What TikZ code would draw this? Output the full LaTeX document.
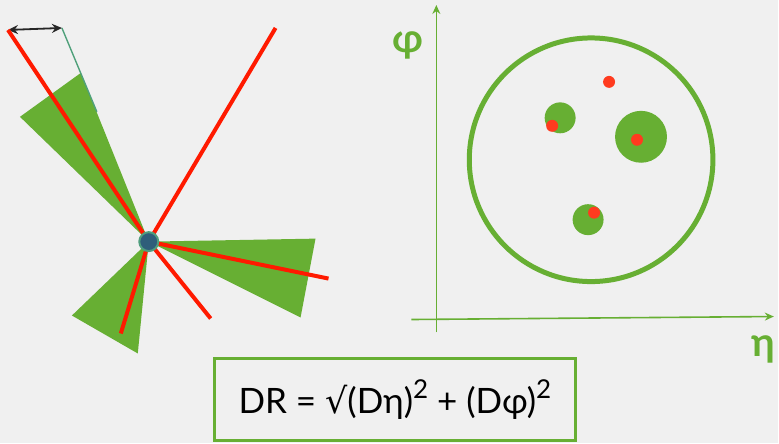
\documentclass[tikz,border=0pt]{standalone}
\usepackage{fontspec}
\setmainfont{Lato}
\newfontfamily\symfont{DejaVu Sans}
\usetikzlibrary{arrows.meta}
\definecolor{bg}{HTML}{F0F0F0}
\definecolor{jetgreen}{HTML}{67AF33}
\definecolor{trackred}{HTML}{FF1A00}
\definecolor{dotred}{HTML}{FF3B1F}
\definecolor{vtxblue}{HTML}{2F5E7A}
\definecolor{vtxteal}{HTML}{4F9E7E}
\definecolor{edgeteal}{HTML}{4FA07A}
\newcommand{\sqsup}{\raisebox{0.42em}{\fontsize{26}{26}\selectfont 2}}

\begin{document}
\begin{tikzpicture}[x=1pt,y=-1pt,>=Stealth,
  track/.style={trackred,line width=4pt},
  jet/.style={fill=jetgreen},
  axis/.style={jetgreen,line width=1.6pt,-{Stealth[length=9pt,width=8pt]}},
  axlabel/.style={text=jetgreen,font=\bfseries\fontsize{40}{40}\selectfont}]
\fill[bg] (0,0) rectangle (779,444);
% ---------- jets (cones) ----------
\coordinate (vtx) at (149,242);
\fill[jet] (vtx) -- (20,117) -- (81,73) -- cycle;
\fill[jet] (vtx) -- (316,239) -- (301,318) -- cycle;
\fill[jet] (vtx) -- (72,316) -- (138,354) -- cycle;
% cone edge and opening angle
\coordinate (trkA) at (8,30);
\coordinate (edgetop) at (62,28);
\draw[edgeteal,line width=1.4pt] (edgetop) -- (97,112);
\draw[{Stealth[length=10pt,width=9pt]}-{Stealth[length=10pt,width=9pt]},black!85,line width=1.8pt] (trkA) -- (edgetop);
% ---------- tracks ----------
\draw[track] (vtx) -- (trkA);
\draw[track] (vtx) -- (276,28);
\draw[track] (vtx) -- (329,279);
\draw[track] (vtx) -- (211,319);
\draw[track] (vtx) -- (121,334);
% primary vertex
\node[circle,fill=vtxblue,draw=vtxteal,line width=2pt,minimum size=19pt,inner sep=0pt] (pv) at (vtx) {};
% ---------- eta-phi plane ----------
\draw[axis] (412,320) -- (775,317);
\draw[axis] (437,333) -- (437,5);
\node[axlabel] (phi) at (409,46) {φ};
\node[axlabel] (eta) at (765,350) {η};
\draw[jetgreen,line width=5pt] (592,160) circle[radius=122pt];
% jet areas
\fill[jetgreen] (561,118) circle[radius=15.5pt];
\fill[jetgreen] (642,137) circle[radius=26pt];
\fill[jetgreen] (589,220) circle[radius=15.5pt];
% particles
\fill[dotred] (610,82) circle[radius=6pt];
\fill[dotred] (553,126) circle[radius=6pt];
\fill[dotred] (638,140) circle[radius=6pt];
\fill[dotred] (595,213) circle[radius=6pt];
% ---------- distance formula ----------
\node[draw=jetgreen,line width=3pt,fill=bg,minimum width=361pt,minimum height=82pt,
  font=\fontsize{35}{35}\selectfont] (dr) at (395.5,400)
  {DR = {\symfont √}(Dη)\sqsup{} + (Dφ)\sqsup};
\end{tikzpicture}
\end{document}
